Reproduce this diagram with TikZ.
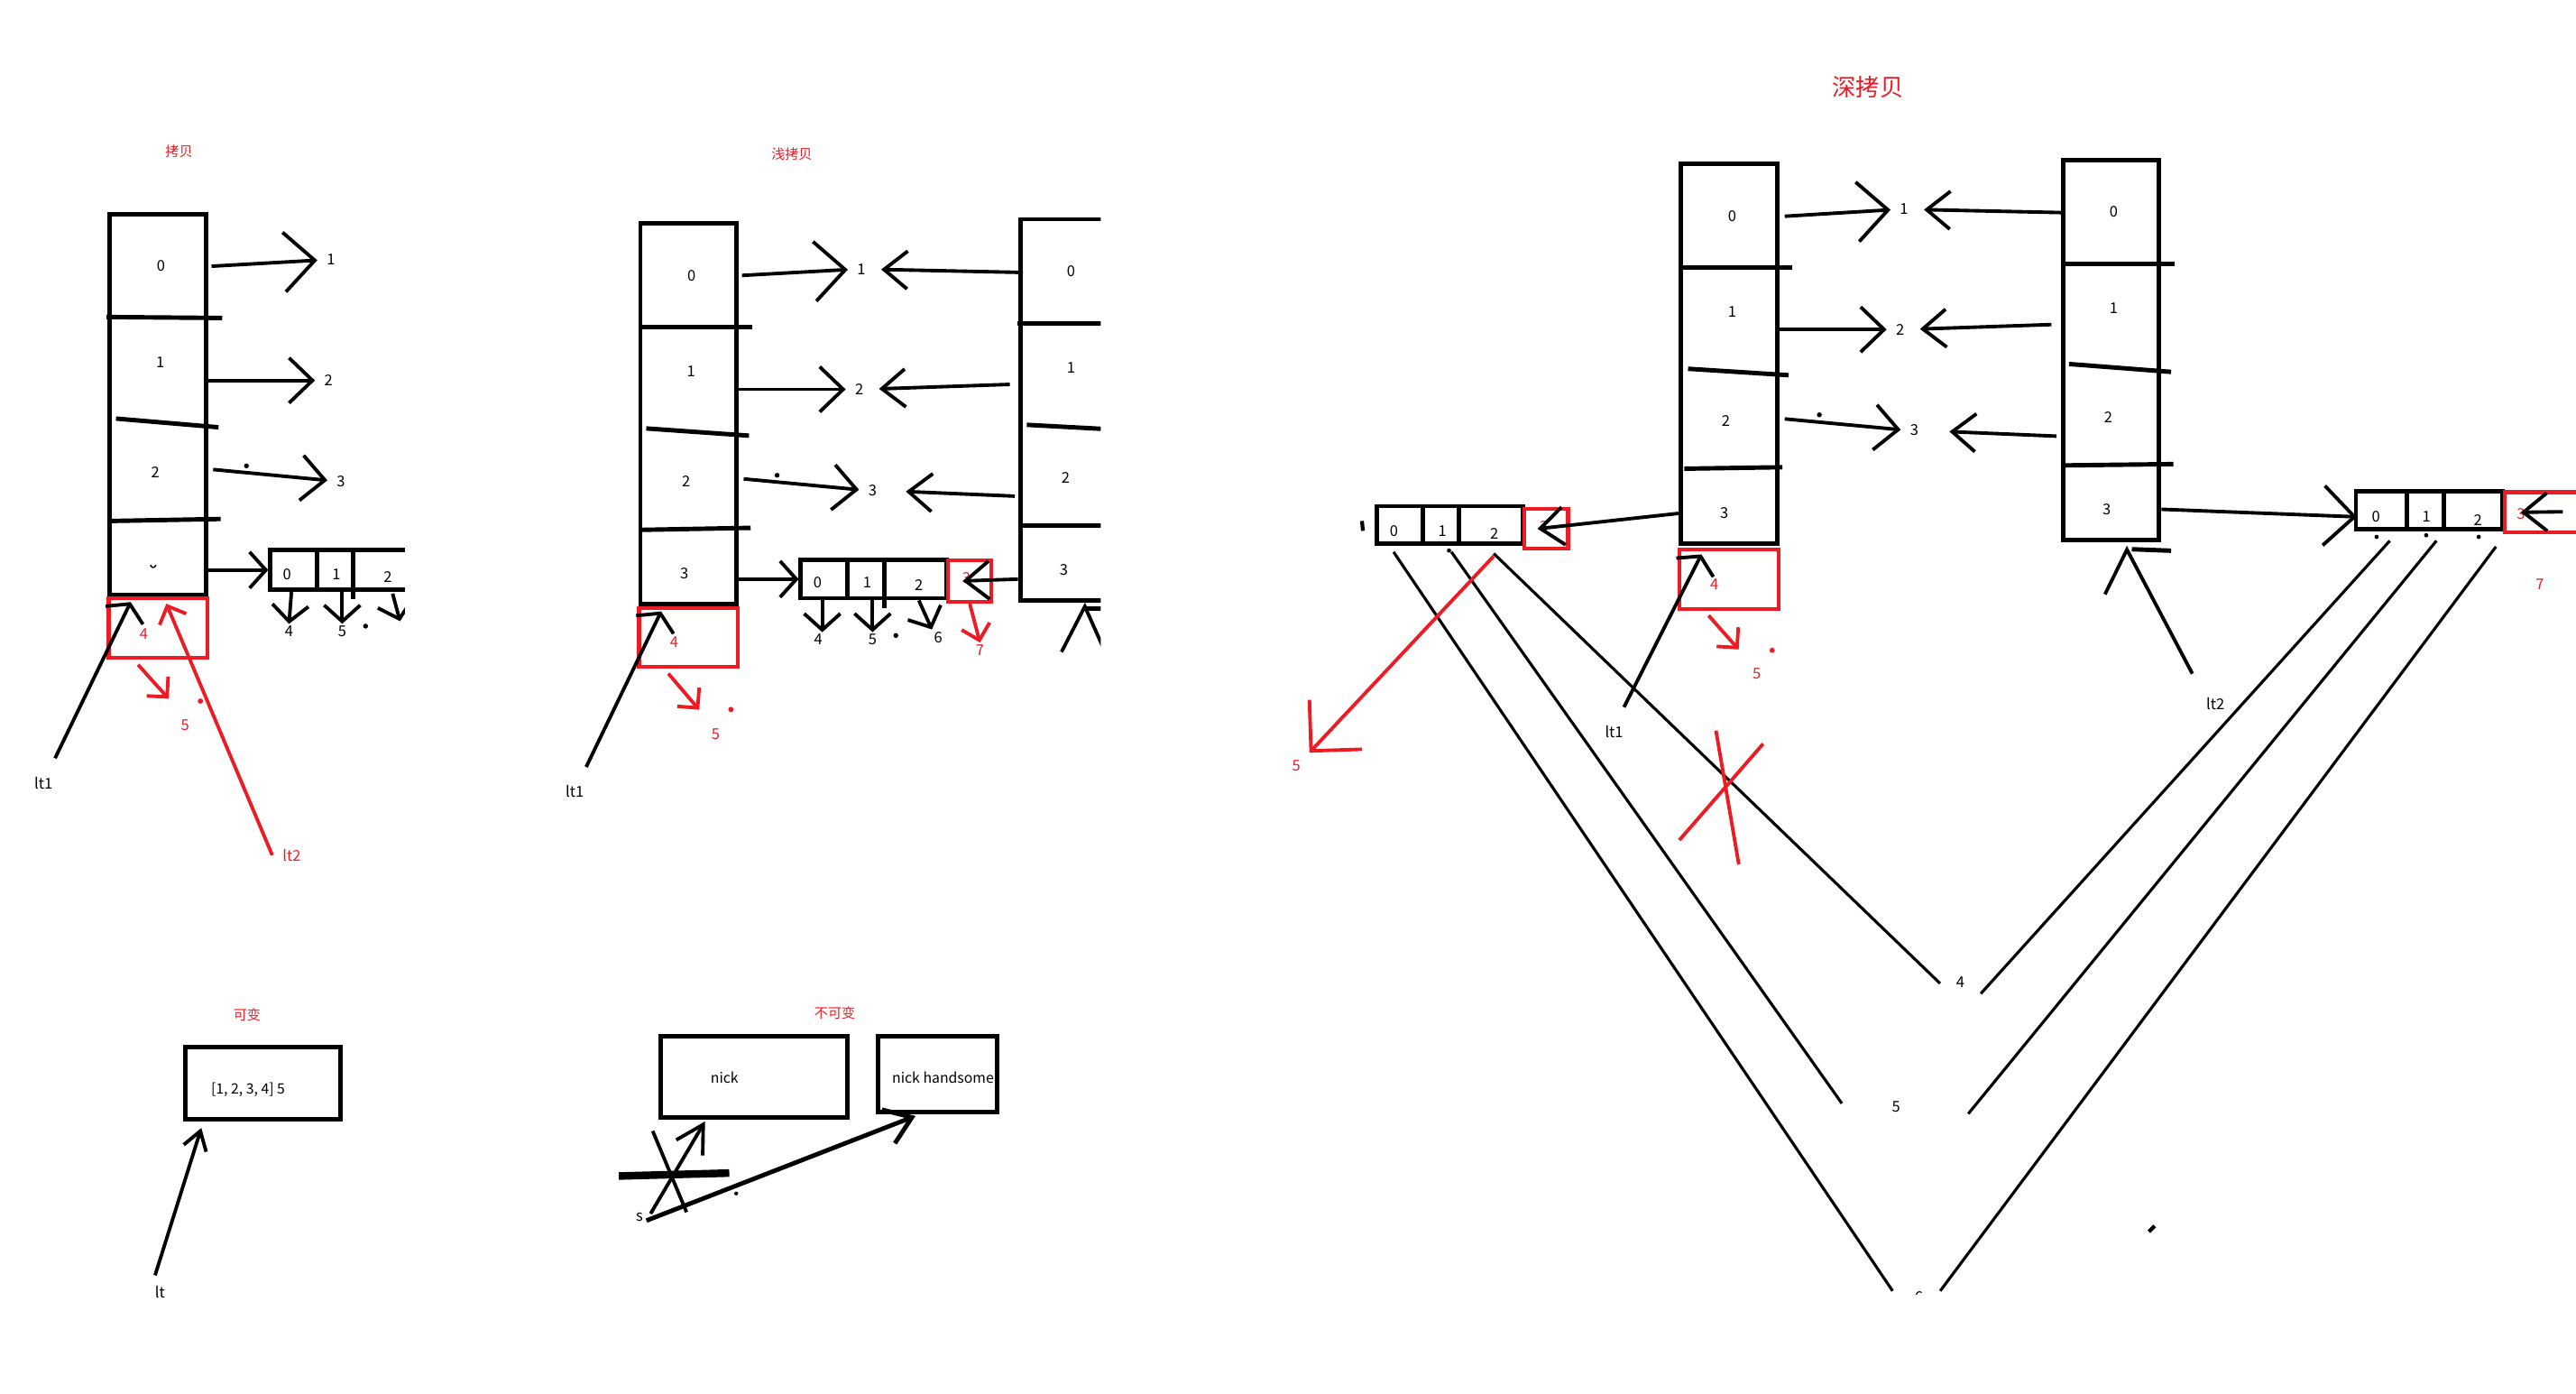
\documentclass[tikz,border=0pt]{standalone}
\usepackage{fontspec}
\setmainfont{Noto Sans CJK SC}
\usepackage{xcolor}
\usetikzlibrary{calc,positioning,arrows.meta,fit}
\definecolor{paintred}{RGB}{237,28,36}
\tikzset{
>={Straight Barb[length=2.6mm,width=5mm]},
  cellbox/.style={
    rectangle,
    draw=black, line width=1.4pt,
    inner sep=0pt},
  divider/.style={draw, line width=1.4pt},
  myarrow/.style={draw, line width=1.1pt, ->, shorten >=0.8mm},
  backarrow/.style={draw, line width=1.1pt, -{Straight Barb[length=2.6mm,width=4.2mm]}, shorten >=1.5mm},
  bigarrow/.style={draw, line width=1.1pt, -{Straight Barb[length=3.4mm,width=6.6mm]}, shorten >=0.8mm},
  smallarrow/.style={draw, line width=1.1pt, -{Straight Barb[length=1.8mm,width=4mm]}},
  ltarrow/.style={draw, line width=1.1pt, -{Straight Barb[length=1.4mm,width=4.6mm]}},
  narrowarrow/.style={draw, line width=1.1pt, -{Straight Barb[length=3mm,width=3.4mm]}},
  ltnarrow/.style={draw, line width=1.1pt, -{Straight Barb[length=2mm,width=2.6mm]}},
  thinline/.style={draw, line width=0.9pt},
  cellnum/.style={font=\fontsize{4.7}{5.5}\selectfont, inner sep=0.5pt},
  textnode/.style={font=\fontsize{4.5}{5.5}\selectfont, inner sep=0.5pt},
  smalltitle/.style={font=\fontsize{4.3}{5}\selectfont, text=paintred, inner sep=0.5pt},
}

\begin{document}
\begin{tikzpicture}[x=0.018216cm, y=-0.018216cm]
  \tikzset{
      redbox/.style={rectangle, draw=paintred, line width=1.2pt, inner sep=0pt},
      rednum/.style={cellnum, text=paintred},
      redarrow/.style={draw=paintred, line width=1.1pt, -{Straight Barb[length=1.6mm,width=3.2mm]}},
      bigredarrow/.style={draw=paintred, line width=1.1pt, -{Straight Barb[length=4mm,width=8mm]}},
      redline/.style={draw=paintred, line width=1.1pt},
      bigtitle/.style={font=\fontsize{7.5}{9}\selectfont, text=paintred, inner sep=0.5pt},
  }
  \useasboundingbox (0,0) rectangle (1568,847.7);

  % 拷贝
  \node[smalltitle] (title1) at (109,92) {拷贝};
  \node[cellbox, fit={(66.6,130.2) (125.4,362)}] (box1) {};
  \draw[divider] (64.9,192.9) -- (135.2,193.5);
  \draw[divider] (70.6,254.7) -- (133,260);
  \draw[divider] (68.1,317) -- (134.3,315.8);
  \node[cellnum] (c10) at (98,162) {0};
  \node[cellnum] (c11) at (97.5,220.5) {1};
  \node[cellnum] (c12) at (94.6,287.3) {2};
  \draw[line width=0.4pt] (91.5,343.8) .. controls (92.5,345.8) and (94,345.8) .. (95,343.8);
  \node[cellnum] (v11) at (201.4,158.1) {1};
  \node[cellnum] (v12) at (200,231.5) {2};
  \node[cellnum] (v13) at (207.5,292.7) {3};
  \path[bigarrow] ($(box1.east |- c10)+(2,0)$) -- (v11.west);
  \path[myarrow] (box1.east |- v12) -- (v12.west);
  \path[myarrow] ($(box1.east |- v13)+(3,-7)$) -- (v13.west);
  \fill (150,283.5) circle (1.5);
  \begin{scope}
    \clip (150,320) rectangle (246.5,400);
    \node[cellbox, fit={(164.6,334.8) (262,358.9)}] (arr1) {};
    \draw[divider] (192.8,334.8) -- (192.8,358.9);
    \draw[divider] (215.1,334.8) -- (215.1,364.6);
    \node[cellnum] (a10) at (174.7,349.4) {0};
    \node[cellnum] (a11) at (204.8,349.4) {1};
    \node[cellnum] (a12) at (236,351) {2};
    \coordinate (w16) at (243.5,378);
    \path[smallarrow] ($(a12 |- arr1.south)+(3,1)$) -- (w16);
  \end{scope}
  \path[smallarrow] (box1.east |- arr1) -- (arr1.west);
  \node[cellnum] (w14) at (175.9,384.2) {4};
  \node[cellnum] (w15) at (208.3,384.2) {5};
  \path[smallarrow] ($(w14.north |- arr1.south)+(1.5,0)$) -- (w14.north);
  \path[smallarrow] (w15.north |- arr1.south) -- (w15.north);
  \fill (222.5,381) circle (1.5);
  \node[redbox, fit={(66.2,363.9) (126.4,400.3)}] (red1) {};
  \node[rednum] (r14) at (87.5,385.5) {4};
  \node[cellnum] (lt11) at (26.5,476.4) {lt1};
  \path[ltarrow] ($(lt11.north)+(7,-10)$) -- ($(box1.south west)+(14.3,3)$);
  \node[rednum] (lt12) at (177.6,520.4) {lt2};
  \path[redarrow] ($(lt12.west)+(-5,0)$) -- ($(box1.south west)+(36,4)$);
  \node[rednum] (r15) at (112.7,441.2) {5};
  \path[redarrow] ($(red1.south west)+(19,3)$) -- ($(r15)+(-10,-16)$);
  \fill[paintred] (122,426.6) circle (1.6);

  % 浅拷贝
  \node[smalltitle] (title2) at (482,94) {浅拷贝};
  \node[cellbox, fit={(389.8,135.9) (448.3,367.7)}] (box2) {};
  \draw[divider] (388.5,198.9) -- (458.1,198.9);
  \draw[divider] (393.4,260.7) -- (455.9,265.1);
  \draw[divider] (391,322.4) -- (456.9,321.2);
  \node[cellnum] (c20) at (420.9,167.6) {0};
  \node[cellnum] (c21) at (420.6,226.2) {1};
  \node[cellnum] (c22) at (417.7,292.7) {2};
  \node[cellnum] (c23) at (416.5,349) {3};
  \begin{scope}
    \clip (600,100) rectangle (670,440);
    \node[cellbox, fit={(621,133.4) (700,365.5)}] (box3) {};
    \draw[divider] (619.3,196.7) -- (690,196.7);
    \draw[divider] (625,258.5) -- (690,262);
    \draw[divider] (621.3,319.6) -- (690,319.6);
    \draw[divider] (661,370.3) -- (690,370.3);
    \node[cellnum] (c30) at (651.9,165) {0};
    \node[cellnum] (c31) at (651.9,224) {1};
    \node[cellnum] (c32) at (648.7,290.5) {2};
    \node[cellnum] (c33) at (647.5,346.8) {3};
    \coordinate (q3) at (692,440);
    \draw[line width=1.1pt] (q3) -- ($(box3.south west)+(40.7,2.2)$) -- ++(-14.2,27.6);
  \end{scope}
  \node[cellnum] (v21) at (524.3,163.8) {1};
  \node[cellnum] (v22) at (523,236.9) {2};
  \node[cellnum] (v23) at (531.1,298.4) {3};
  \path[bigarrow] ($(box2.east |- c20)+(2,0)$) -- (v21.west);
  \path[myarrow] (box2.east |- v22) -- (v22.west);
  \path[myarrow] ($(box2.east |- v23)+(3,-7)$) -- (v23.west);
  \fill (473,289.2) circle (1.5);
  \path[backarrow] ($(box3.west |- v21)+(3,2)$) -- (v21.east);
  \path[backarrow] ($(box3.west |- v22)+(-5,-3)$) -- (v22.east);
  \path[backarrow, shorten >=3mm] ($(box3.west |- v23)+(-2,3.5)$) -- (v23.east);
  \node[cellbox, fit={(487.5,340.8) (576,364)}] (arr2) {};
  \draw[divider] (516,340.8) -- (516,364);
  \draw[divider] (538.5,340.8) -- (538.5,370);
  \node[cellnum] (a20) at (497.6,354.4) {0};
  \node[cellnum] (a21) at (527.9,354.4) {1};
  \node[cellnum] (a22) at (559.3,356) {2};
  \path[smallarrow] (box2.east |- arr2) -- (arr2.west);
  \node[redbox, fit={(577.2,340.8) (603.4,366.2)}] (red22) {};
  \node[rednum] (r23) at (588.2,351.9) {3};
  \path[backarrow, shorten >=0pt] (box3.west |- arr2) -- ($(red22.west)+(10,0)$);
  \node[cellnum] (w24) at (498,389.3) {4};
  \node[cellnum] (w25) at (531.1,389.3) {5};
  \node[cellnum] (w26) at (571.1,387.7) {6};
  \node[rednum] (w27) at (596.5,395.6) {7};
  \path[smallarrow] ($(w24.north |- arr2.south)+(2.5,0)$) -- ($(w24.north)+(2.5,0)$);
  \path[smallarrow] (w25.north |- arr2.south) -- (w25.north);
  \path[smallarrow] (a22 |- arr2.south) -- (w26.north west);
  \path[redarrow] (red22.south) -- (w27.north);
  \fill (545.3,386.7) circle (1.5);
  \node[redbox, fit={(389,370) (449,405.7)}] (red2) {};
  \node[rednum] (r24) at (410.3,390.9) {4};
  \node[cellnum] (lt21) at (349.8,481.7) {lt1};
  \path[ltarrow] ($(lt21.north)+(7,-10)$) -- ($(box2.south west)+(14,3)$);
  \node[rednum] (r25) at (435.6,446.9) {5};
  \path[redarrow] ($(red2.south west)+(19,3)$) -- ($(r25)+(-10,-15)$);
  \fill[paintred] (444.9,431.7) circle (1.6);

  % 深拷贝
  \node[bigtitle] (title3) at (1137,53) {深拷贝};
  \node[cellbox, fit={(1023,99.6) (1082,331)}] (box4) {};
  \draw[divider] (1021.8,162.7) -- (1091.1,162.7);
  \draw[divider] (1027.5,224.4) -- (1088.7,228.3);
  \draw[divider] (1025.2,285.2) -- (1084.9,284.3);
  \node[cellnum] (c40) at (1054.3,131.6) {0};
  \node[cellnum] (c41) at (1054.3,189.9) {1};
  \node[cellnum] (c42) at (1050.5,256.3) {2};
  \node[cellnum] (c43) at (1049.5,312.4) {3};
  \node[cellbox, fit={(1256,97.4) (1314.3,328.6)}] (box5) {};
  \draw[divider] (1254.6,160.4) -- (1323.9,160.4);
  \draw[divider] (1259.4,221.5) -- (1321.5,226.3);
  \draw[divider] (1256,283.2) -- (1322.9,282.4);
  \draw[divider] (1297.6,334.2) -- (1321.5,335.1);
  \node[cellnum] (c50) at (1286.6,129) {0};
  \node[cellnum] (c51) at (1286.6,187.6) {1};
  \node[cellnum] (c52) at (1283.3,253.8) {2};
  \node[cellnum] (c53) at (1282.3,309.9) {3};
  \node[cellnum] (v41) at (1159,127.4) {1};
  \node[cellnum] (v42) at (1156.6,200.5) {2};
  \node[cellnum] (v43) at (1165.2,261.9) {3};
  \path[bigarrow] ($(box4.east |- c40)+(3,0)$) -- (v41.west);
  \path[myarrow] (box4.east |- v42) -- (v42.west);
  \path[myarrow] ($(box4.east |- v43)+(3,-7)$) -- (v43.west);
  \fill (1107.4,252.4) circle (1.5);
  \path[backarrow] ($(box5.west |- v41)+(2,2)$) -- (v41.east);
  \path[backarrow] ($(box5.west |- v42)+(-6,-3)$) -- (v42.east);
  \path[backarrow, shorten >=3.2mm] ($(box5.west |- v43)+(-3,3.5)$) -- (v43.east);
  \node[cellbox, fit={(838,308) (927,331)}] (arr4) {};
  \draw[divider] (866,308) -- (866,331);
  \draw[divider] (888,308) -- (888,331);
  \node[cellnum] (a40) at (848.5,323) {0};
  \node[cellnum] (a41) at (878,323) {1};
  \node[cellnum] (a42) at (909.5,325) {2};
  \node[redbox, fit={(928,309.5) (954.5,334)}] (red44) {};
  \node[rednum] (r43) at (939.7,320.3) {3};
  \path[backarrow, shorten >=0pt] (box4.west |- c43) -- ($(red44.west)+(9,0)$);
  \draw[line width=1.2pt] (829,317) -- (829.6,323);
  \fill (882,335) circle (1.3);
  \node[redbox, fit={(1022.2,334.2) (1082.7,370.4)}] (red4) {};
  \node[rednum] (r44) at (1043.5,355.6) {4};
  \node[cellnum] (lt41) at (982.5,445.3) {lt1};
  \path[ltarrow] ($(lt41.north)+(6,-10)$) -- ($(box4.south west)+(14,5)$);
  \node[rednum] (r45) at (1069.3,410.2) {5};
  \path[redarrow] ($(red4.south west)+(19,3)$) -- ($(r45)+(-11,-15)$);
  \fill[paintred] (1078.7,395.7) circle (1.6);
  \node[cellbox, fit={(1434,299) (1523,322)}] (arr5) {};
  \draw[divider] (1465,299) -- (1465,322);
  \draw[divider] (1487.4,299) -- (1487.4,322);
  \node[cellnum] (a50) at (1446.2,314.5) {0};
  \node[cellnum] (a51) at (1477,314.5) {1};
  \node[cellnum] (a52) at (1508.2,316.5) {2};
  \fill (1446.6,326.7) circle (1.3);
  \fill (1476.8,325.7) circle (1.3);
  \fill (1508.8,326.7) circle (1.3);
  \node[redbox, fit={(1524.5,299.5) (1570,324)}] (red55) {};
  \node[rednum] (r53) at (1534.5,312.6) {3};
  \node[rednum] (r57) at (1546,355.5) {7};
  \path[bigarrow, shorten >=0pt] (box5.east |- c53) -- ($(arr5.west)+(2,4)$);
  \coordinate (t55) at (1560,311.4);
  \path[backarrow, shorten >=0pt] (t55) -- ($(red55.west)+(11,0)$);
  \node[cellnum] (lt52) at (1348.5,428) {lt2};
  \draw[line width=1.1pt] ($(lt52.north)+(-14,-13)$) -- ($(box5.south west)+(40,4.5)$) -- ++(-13.4,27.2);
  \node[cellnum] (w44) at (1193.3,597.4) {4};
  \node[cellnum] (w45) at (1154.1,673.4) {5};
  \begin{scope}
    \clip (1100,700) rectangle (1250,787.5);
    \node[cellnum] (w46) at (1168,789.5) {6};
  \end{scope}
  \path[thinline] ($(arr4.south west)+(11.6,3.5)$) -- ($(w46)+(-16,-4)$);
  \path[thinline] ($(arr4.south west)+(46.8,3.5)$) -- ($(w45)+(-33,-2)$);
  \path[thinline] ($(arr4.south west)+(72.6,4.5)$) -- ($(w44)+(-12.4,1)$);
  \path[thinline] ($(arr5.south west)+(22,5.7)$) -- ($(w44)+(12.4,7.2)$);
  \path[thinline] ($(arr5.south west)+(50.4,5.7)$) -- ($(w45)+(44,4.3)$);
  \path[thinline] ($(arr5.south west)+(86.6,9.3)$) -- ($(w46)+(13,-4)$);
  \node[rednum] (r5l) at (789,466) {5};
  \path[bigredarrow] ($(arr4.south west)+(72.6,6)$) -- ($(r5l)+(8,-8)$);
  \draw[redline] (1044.5,444.6) -- (1058.4,526);
  \draw[redline] (1073.2,452.6) -- (1022.2,511.2);
  \draw[line width=1.2pt] (1308,749.5) -- (1311.5,746);

  % 可变 / 不可变
  \node[smalltitle] (title4) at (150.4,617.3) {可变};
  \node[cellbox, fit={(112.6,637) (207.5,681)}] (box6) {};
  \node[textnode] (list6) at (151,663) {[1, 2, 3, 4] 5};
  \node[cellnum] (lt6) at (97.4,786) {lt};
  \path[ltnarrow] ($(lt6.north)+(-3,-5)$) -- ($(box6.south west)+(11.3,4)$);
  \node[smalltitle] (title5) at (508.2,616.5) {不可变};
  \node[cellbox, fit={(401.9,630.6) (515.8,680)}] (box7) {};
  \node[textnode] (nick7) at (441,655.7) {nick};
  \node[cellbox, fit={(534.7,630.3) (606.9,676.7)}] (box8) {};
  \node[textnode] (nick8) at (574,655.7) {nick handsome};
  \node[cellnum] (s7) at (389.3,740.7) {s};
  \path[narrowarrow] ($(s7)+(6.7,-2.2)$) -- ($(box7.south west)+(28.6,1)$);
  \draw[line width=2.4pt] (376.7,715.6) -- (443.9,713.8);
  \draw[line width=1.1pt] (397.3,688.2) -- (417.9,737.6);
  \path[draw, line width=1.4pt, -{Straight Barb[length=2.8mm,width=4mm]}] ($(s7)+(4.2,2)$) -- ($(box8.south west)+(23.9,1)$);
  \fill (448.1,726.2) circle (1.2);
\end{tikzpicture}
\end{document}
